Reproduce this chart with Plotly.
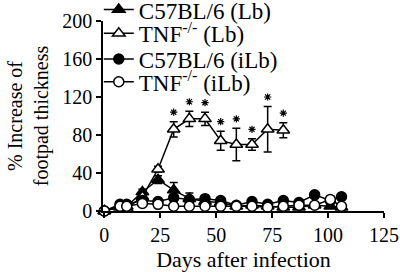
import plotly.graph_objects as go

days_all = [0, 7, 10, 17, 24, 31, 38, 45, 52, 59, 66, 73, 80, 87, 94, 101, 106]
days_tnf_lb = [0, 7, 10, 17, 24, 31, 38, 45, 52, 59, 66, 73, 80]

c57_lb = [0, 5, 5, 20, 33, 22, 13, 10, 9, 5, 6, 5, 4, 4, 6, 5, 4]
c57_lb_err = [0, 1, 1, 3, 4, 8, 6, 4, 3, 2, 2, 2, 2, 2, 3, 2, 2]

tnf_lb = [0, 4, 3, 15, 44, 86, 97, 97, 74, 70, 70, 86, 85]
tnf_lb_err = [0, 1, 1, 3, 3, 8, 8, 7, 10, 17, 6, 24, 8]

c57_ilb = [0, 7, 7, 11, 10, 14, 12, 13, 11, 6, 10, 7, 11, 9, 17, 11, 15]
c57_ilb_err = [0, 2, 2, 2, 2, 3, 3, 2, 2, 2, 2, 2, 3, 2, 3, 3, 3]

tnf_ilb = [0, 5, 5, 8, 7, 5, 5, 5, 5, 5, 5, 4, 5, 6, 6, 12, 5]
tnf_ilb_err = [0, 1, 1, 2, 2, 2, 2, 2, 2, 2, 2, 2, 2, 2, 2, 4, 2]

sig_days = [31, 38, 45, 52, 59, 66, 73, 80]

x_ticks = [0, 25, 50, 75, 100, 125]
y_ticks = [0, 40, 80, 120, 160, 200]

FONT = "Liberation Serif"

def err(arr):
    return dict(type="data", array=arr, visible=True, color="black", thickness=1.5, width=4)

fig = go.Figure()
fig.add_trace(go.Scatter(
    x=days_all, y=c57_lb, name="C57BL/6 (Lb)", mode="lines+markers", legend="legend",
    line=dict(color="black", width=1.5),
    marker=dict(symbol="triangle-up", size=11, color="black", line=dict(color="black", width=1.5)),
    error_y=err(c57_lb_err), cliponaxis=False))
fig.add_trace(go.Scatter(
    x=days_tnf_lb, y=tnf_lb, name="TNF<sup>-/-</sup> (Lb)", mode="lines+markers", legend="legend2",
    line=dict(color="black", width=1.5),
    marker=dict(symbol="triangle-up", size=11, color="white", line=dict(color="black", width=1.5)),
    error_y=err(tnf_lb_err), cliponaxis=False))
fig.add_trace(go.Scatter(
    x=days_all, y=c57_ilb, name="C57BL/6 (iLb)", mode="lines+markers", legend="legend3",
    line=dict(color="black", width=1.5),
    marker=dict(symbol="circle", size=10, color="black", line=dict(color="black", width=1.5)),
    error_y=err(c57_ilb_err), cliponaxis=False))
fig.add_trace(go.Scatter(
    x=days_all, y=tnf_ilb, name="TNF<sup>-/-</sup> (iLb)", mode="lines+markers", legend="legend4",
    line=dict(color="black", width=1.5),
    marker=dict(symbol="circle", size=10, color="white", line=dict(color="black", width=1.5)),
    error_y=err(tnf_ilb_err), cliponaxis=False))

# significance asterisks above the TNF (Lb) error bars
sig_y = []
for d in sig_days:
    i = days_tnf_lb.index(d)
    sig_y.append(tnf_lb[i] + tnf_lb_err[i] + 10)
fig.add_trace(go.Scatter(
    x=sig_days, y=sig_y, mode="markers", showlegend=False, hoverinfo="skip",
    marker=dict(symbol="asterisk-open", size=6, color="black", line=dict(color="black", width=1.2)),
    cliponaxis=False))

leg_common = dict(xanchor="left", yanchor="middle", bgcolor="rgba(0,0,0,0)",
                  font=dict(family=FONT, size=23, color="black"), itemwidth=30,
                  borderwidth=0)

fig.update_layout(
    width=400, height=272,
    margin=dict(l=103, r=16, t=21, b=61, autoexpand=False),
    paper_bgcolor="white", plot_bgcolor="white",
    font=dict(family=FONT, size=20, color="black"),
    showlegend=True,
    legend=dict(x=-0.015, y=1.06, **leg_common),
    legend2=dict(x=-0.015, y=0.935, **leg_common),
    legend3=dict(x=-0.015, y=0.80, **leg_common),
    legend4=dict(x=-0.015, y=0.68, **leg_common),
)
fig.update_xaxes(
    range=[-0.6, 125], tickvals=x_ticks, ticktext=[str(v) for v in x_ticks],
    showline=True, linecolor="black", linewidth=1.5,
    ticks="outside", ticklen=5, tickwidth=1.5, tickcolor="black",
    showgrid=False, zeroline=False,
    title=dict(text="Days after infection", font=dict(family=FONT, size=22), standoff=9),
    tickfont=dict(family=FONT, size=20),
)
fig.update_yaxes(
    range=[0, 200], tickvals=y_ticks, ticktext=[str(v) for v in y_ticks],
    showline=True, linecolor="black", linewidth=1.5,
    ticks="outside", ticklen=5, tickwidth=1.5, tickcolor="black",
    showgrid=False, zeroline=False,
    title=dict(text="% Increase of<br>footpad thickness", font=dict(family=FONT, size=20), standoff=8),
    tickfont=dict(family=FONT, size=20),
)

fig.write_html("out.html", config={"displayModeBar": False},
               post_script="document.body.style.margin='0px';")
